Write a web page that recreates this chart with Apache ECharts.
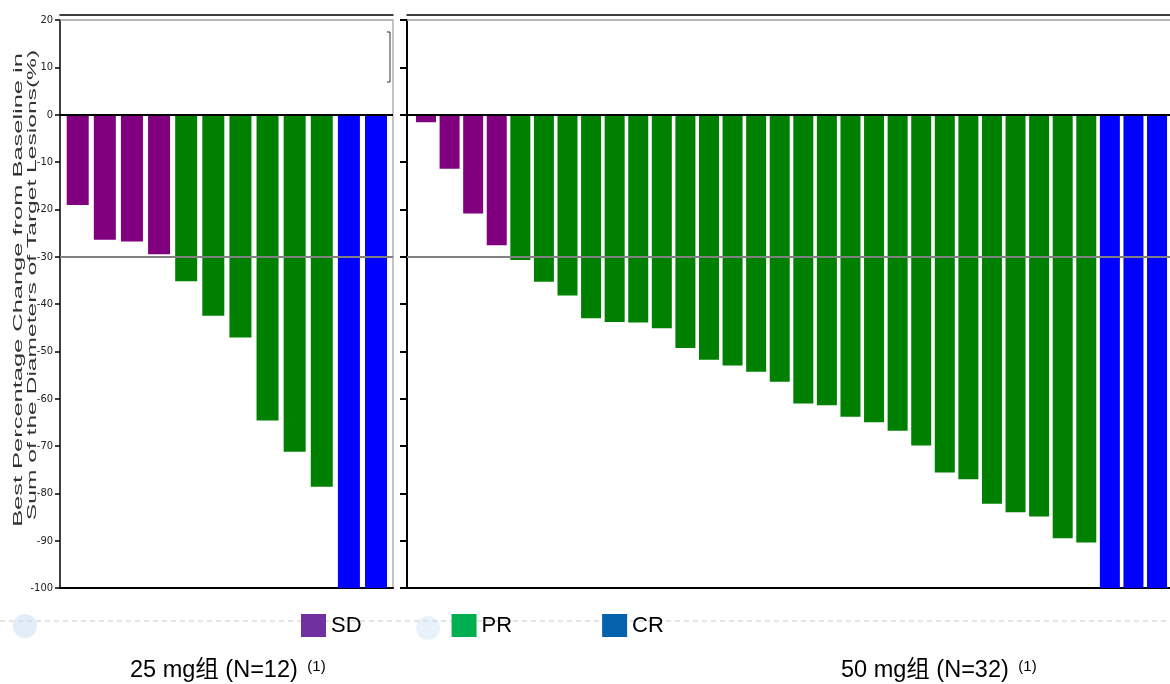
<!DOCTYPE html>
<html>
<head>
<meta charset="utf-8">
<script src="https://cdn.jsdelivr.net/npm/echarts@6/dist/echarts.min.js"></script>
<style>
  html, body { margin: 0; padding: 0; background: #fff; }
  #chart { width: 1170px; height: 684px; }
</style>
</head>
<body>
<div id="chart"></div>
<script>
// 每个患者的最佳肿瘤缩小百分比
const lowDoseChange = [-19.1, -26.4, -26.8, -29.5, -35.2, -42.5, -47.1, -64.6, -71.2, -78.6, -100, -100];
const lowDoseResponse = ["SD", "SD", "SD", "SD", "PR", "PR", "PR", "PR", "PR", "PR", "CR", "CR"];
const highDoseChange = [
    -1.6, -11.4, -20.9, -27.6, -30.7, -35.3, -38.2, -43.0, -43.8, -43.9, -45.1,
    -49.3, -51.8, -53.0, -54.3, -56.4, -61.0, -61.4, -63.8, -65.0, -66.8, -69.9,
    -75.6, -77.0, -82.2, -84.0, -84.9, -89.5, -90.4, -100, -100, -100,
];
const highDoseResponse = [
    "SD", "SD", "SD", "SD",
    "PR", "PR", "PR", "PR", "PR", "PR", "PR", "PR", "PR", "PR", "PR", "PR", "PR",
    "PR", "PR", "PR", "PR", "PR", "PR", "PR", "PR", "PR", "PR", "PR", "PR",
    "CR", "CR", "CR",
];
const responseTypes = ["SD", "PR", "CR"];
const groupLabels = ["25 mg组 (N=12)", "50 mg组 (N=32)"];
const footnoteMark = "(1)";
const yAxisTitle = ["Best Percentage Change from Baseline in", "Sum of the Diameters of Target Lesions(%)"];
const yMin = -100;
const yMax = 20;
const yStep = 10;
const refLines = [20, 0, -30];

const barColors = { SD: "#800080", PR: "#008000", CR: "#0000ff" };
const legendColors = { SD: "#7030a0", PR: "#00b050", CR: "#0563ad" };

let chart = echarts.init(document.getElementById("chart"));

// 参考线：顶部20、0 线、-30% 线
function refLineData() {
    return refLines.map((v) => ({
        yAxis: v,
        lineStyle: v === 0
            ? { color: "#000", width: 2, type: "solid" }
            : { color: v === 20 ? "#a0a0a0" : "#808080", width: v === 20 ? 1.5 : 2, type: "solid" },
    }));
}

function panelSeries(changes, responses, xIdx, yIdx, barWidth) {
    return responseTypes.map((type, k) => {
        let data = [];
        changes.forEach((v, i) => {
            if (responses[i] === type) data.push([i, v]);
        });
        let s = {
            type: "bar",
            name: type,
            xAxisIndex: xIdx,
            yAxisIndex: yIdx,
            barWidth: barWidth,
            barGap: "-100%",
            itemStyle: { color: barColors[type] },
            silent: true,
            data: data,
            z: 2,
        };
        if (k === 0) {
            s.markLine = {
                silent: true,
                symbol: "none",
                label: { show: false },
                z: 5,
                data: refLineData(),
            };
        }
        return s;
    });
}

function hiddenXAxis(grid, min, max, position, offset) {
    return {
        type: "value",
        gridIndex: grid,
        min: min,
        max: max,
        position: position,
        offset: offset,
        axisLine: { show: true, onZero: false, lineStyle: { color: "#000", width: position === "top" ? 1.5 : 2 } },
        axisTick: { show: false },
        axisLabel: { show: false },
        splitLine: { show: false },
    };
}

let labelFont = "'Liberation Sans Narrow', 'DejaVu Sans Condensed', sans-serif";

let options = {
    backgroundColor: "#fff",
    animation: false,
    grid: [
        { left: 60, top: 20, width: 333, height: 568 },
        { left: 407, top: 20, right: 0, height: 568 },
    ],
    xAxis: [
        hiddenXAxis(0, -0.653, 11.626, "bottom", 0),
        hiddenXAxis(0, -0.653, 11.626, "top", 5),
        hiddenXAxis(1, -0.806, 31.55, "bottom", 0),
        hiddenXAxis(1, -0.806, 31.55, "top", 5),
    ],
    yAxis: [
        {
            type: "value",
            gridIndex: 0,
            min: yMin,
            max: yMax,
            interval: yStep,
            axisLine: { show: true, onZero: false, lineStyle: { color: "#000", width: 1.5 } },
            axisTick: { show: true, length: 5, lineStyle: { color: "#000", width: 1.5 } },
            axisLabel: { margin: 7, fontFamily: labelFont, fontSize: 11, color: "#222" },
            splitLine: { show: false },
        },
        {
            type: "value",
            gridIndex: 0,
            position: "right",
            min: yMin,
            max: yMax,
            interval: yStep,
            axisLine: { show: true, onZero: false, lineStyle: { color: "#b0b0b0", width: 1.5 } },
            axisTick: { show: false },
            axisLabel: { show: false },
            splitLine: { show: false },
        },
        {
            type: "value",
            gridIndex: 1,
            min: yMin,
            max: yMax,
            interval: yStep,
            axisLine: { show: true, onZero: false, lineStyle: { color: "#000", width: 2 } },
            axisTick: { show: true, length: 7, lineStyle: { color: "#000", width: 2 } },
            axisLabel: { show: false },
            splitLine: { show: false },
        },
    ],
    legend: {
        left: 301,
        top: 614,
        padding: 0,
        itemWidth: 25,
        itemHeight: 23,
        itemGap: 90,
        icon: "rect",
        selectedMode: false,
        textStyle: { fontFamily: "'Liberation Sans', Arial, sans-serif", fontSize: 22, color: "#000" },
        data: responseTypes.map((t) => ({ name: t, itemStyle: { color: legendColors[t] } })),
    },
    series: [
        ...panelSeries(lowDoseChange, lowDoseResponse, 0, 0, 22),
        ...panelSeries(highDoseChange, highDoseResponse, 2, 2, 20),
    ],
    graphic: [
        // 背景虚线和淡色水印圆点
        {
            type: "line",
            silent: true,
            z: -1,
            shape: { x1: 0, y1: 621, x2: 1170, y2: 621 },
            style: { stroke: "#c8c8c8", lineWidth: 1, lineDash: [5, 4] },
        },
        { type: "circle", silent: true, z: -1, shape: { cx: 25, cy: 626, r: 12 }, style: { fill: "rgba(190,215,240,0.45)" } },
        { type: "circle", silent: true, z: -1, shape: { cx: 428, cy: 628, r: 12 }, style: { fill: "rgba(200,222,242,0.4)" } },
        // 左侧面板右上角的小括号
        {
            type: "polyline",
            silent: true,
            shape: { points: [[387, 32], [390, 32], [390, 82], [387, 82]] },
            style: { stroke: "#333", lineWidth: 1, fill: null },
        },
        // 纵轴标题（两行，旋转）
        {
            type: "text",
            silent: true,
            x: 19,
            y: 290,
            rotation: Math.PI / 2,
            scaleX: 2.12,
            style: {
                text: yAxisTitle[0],
                fontFamily: "'Liberation Sans', Arial, sans-serif",
                fontSize: 12,
                fill: "#333",
                align: "center",
                verticalAlign: "middle",
            },
        },
        {
            type: "text",
            silent: true,
            x: 33,
            y: 285,
            rotation: Math.PI / 2,
            scaleX: 2.05,
            style: {
                text: yAxisTitle[1],
                fontFamily: "'Liberation Sans', Arial, sans-serif",
                fontSize: 12,
                fill: "#333",
                align: "center",
                verticalAlign: "middle",
            },
        },
        // 分组标签
        ...groupLabels.map((label, i) => ({
            type: "text",
            silent: true,
            x: i === 0 ? 130 : 841,
            y: 671,
            style: {
                text: label + " {sup|" + footnoteMark + "}",
                fontFamily: "'Liberation Sans', Arial, 'Noto Sans CJK SC', sans-serif",
                fontSize: 23.5,
                fill: "#000",
                align: "left",
                verticalAlign: "middle",
                rich: {
                    sup: {
                        fontSize: 15,
                        padding: [0, 0, 0, 3],
                        verticalAlign: "top",
                        fill: "#000",
                        fontFamily: "'Liberation Sans', Arial, sans-serif",
                    },
                },
            },
        })),
    ],
};

chart.setOption(options);
</script>
</body>
</html>
